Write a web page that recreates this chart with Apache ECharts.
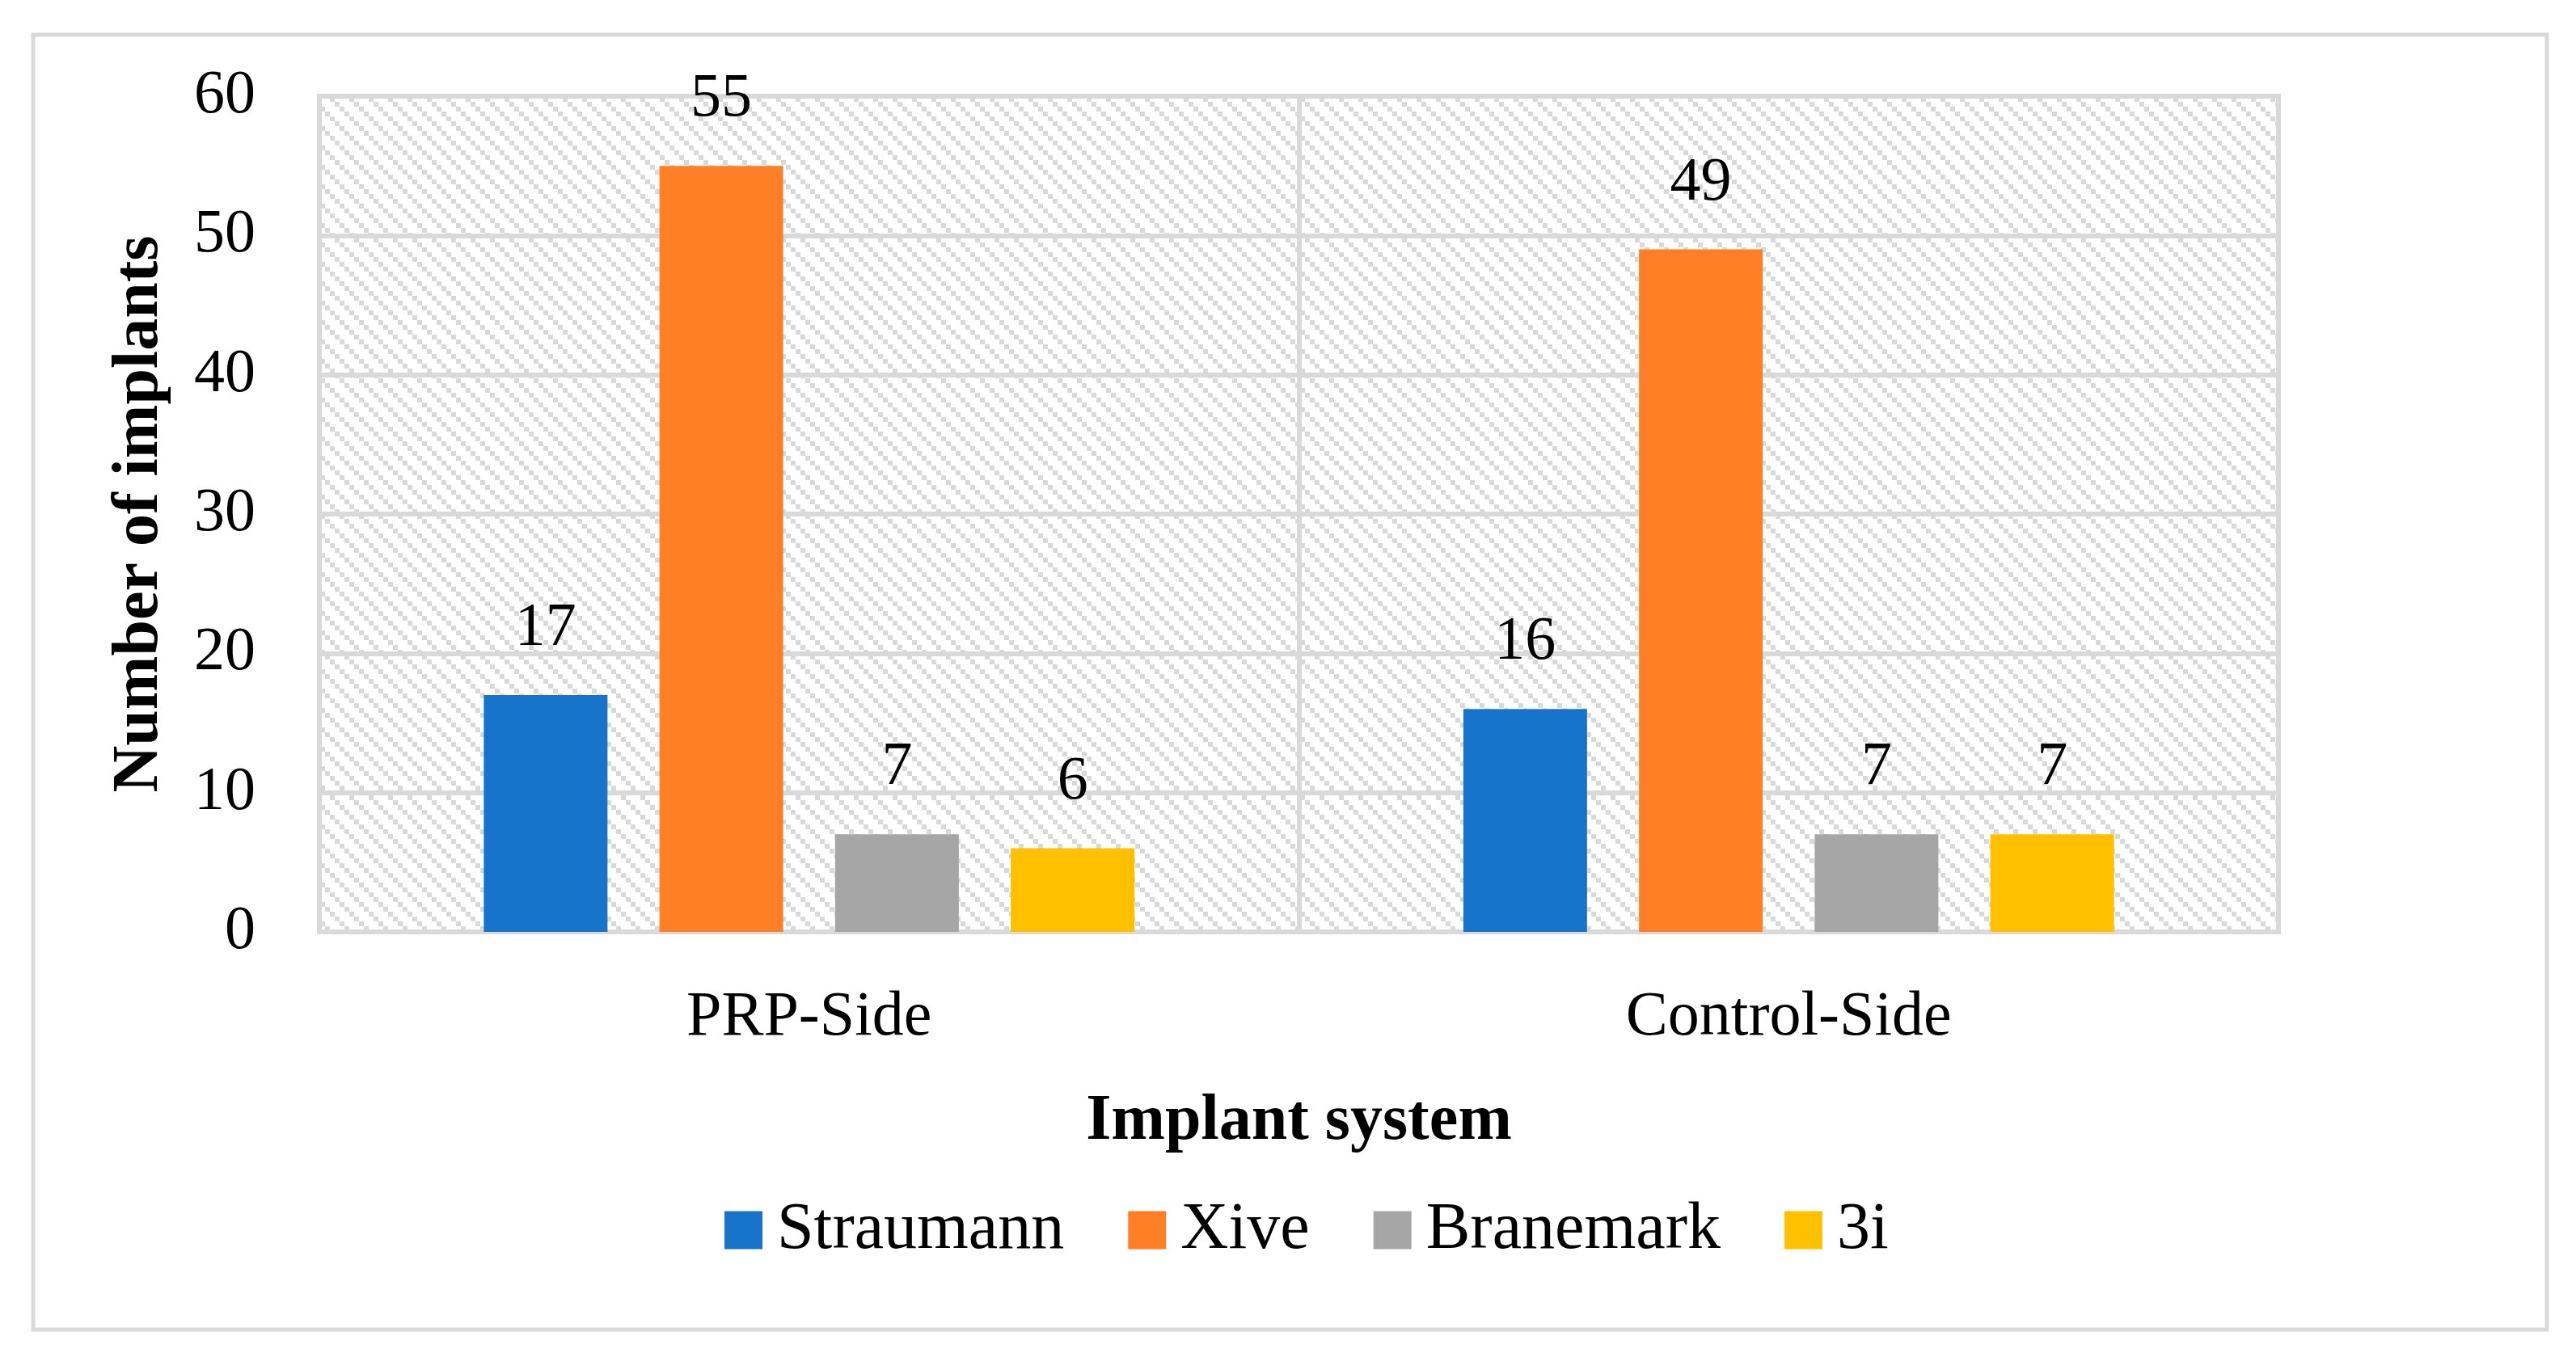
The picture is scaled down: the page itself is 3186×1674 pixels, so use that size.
<!DOCTYPE html>
<html>
<head>
<meta charset="utf-8">
<script src="https://cdn.jsdelivr.net/npm/echarts@6/dist/echarts.min.js"></script>
<style>
html,body{margin:0;padding:0;background:#fff;}
#chart{width:3186px;height:1674px;}
</style>
</head>
<body>
<div id="chart"></div>
<script>
const categories = ['PRP-Side', 'Control-Side'];
const seriesNames = ['Straumann', 'Xive', 'Branemark', '3i'];
const straumann = [17, 16];
const xive = [55, 49];
const branemark = [7, 7];
const threeI = [6, 7];
const seriesValues = [straumann, xive, branemark, threeI];
const seriesColors = ['#1874CB', '#FF7F27', '#A6A6A6', '#FFC000'];
const yMin = 0, yMax = 60, yInterval = 10;

function makePattern() {
  const c = document.createElement('canvas');
  c.width = 24; c.height = 24;
  const ctx = c.getContext('2d');
  ctx.fillStyle = '#ffffff';
  ctx.fillRect(0, 0, 24, 24);
  ctx.fillStyle = '#d9d9d9';
  for (let k = 0; k < 4; k++) ctx.fillRect(k * 6, k * 6, 6, 6);
  return c;
}

const FONT = '"Liberation Serif", "Times New Roman", serif';
const chart = echarts.init(document.getElementById('chart'), null, {renderer: 'canvas'});

const series = seriesNames.map((name, i) => ({
  name: name,
  type: 'bar',
  data: seriesValues[i],
  barWidth: 153,
  barGap: '42%',
  itemStyle: {color: seriesColors[i]},
  label: {
    show: true,
    position: 'top',
    distance: 44,
    color: '#000',
    fontFamily: FONT,
    fontSize: 76
  }
}));

chart.setOption({
  animation: false,
  backgroundColor: '#ffffff',
  graphic: [{
    type: 'rect',
    shape: {x: 41, y: 43, width: 3109, height: 1602},
    style: {fill: 'none', stroke: '#d9d9d9', lineWidth: 5},
    silent: true,
    z: -10
  }],
  grid: {
    left: 395, top: 119, width: 2423, height: 1034,
    show: true,
    backgroundColor: {image: makePattern(), repeat: 'repeat'},
    borderColor: '#d9d9d9',
    borderWidth: 6
  },
  legend: {
    data: seriesNames,
    left: 891,
    top: 1476,
    itemWidth: 47,
    itemHeight: 47,
    itemGap: 79,
    icon: 'rect',
    textStyle: {
      fontFamily: FONT,
      fontSize: 82,
      color: '#000',
      padding: [0, 0, 0, 13]
    }
  },
  xAxis: {
    type: 'category',
    data: categories,
    name: 'Implant system',
    nameLocation: 'middle',
    nameGap: 195,
    nameTextStyle: {fontFamily: FONT, fontSize: 80, fontWeight: 'bold', color: '#000'},
    axisLine: {show: true, lineStyle: {color: '#d9d9d9', width: 6}},
    axisTick: {show: false},
    axisLabel: {fontFamily: FONT, fontSize: 78, color: '#000', margin: 68},
    splitLine: {show: true, lineStyle: {color: '#d9d9d9', width: 6}}
  },
  yAxis: {
    type: 'value',
    min: yMin, max: yMax, interval: yInterval,
    name: 'Number of implants',
    nameLocation: 'middle',
    nameGap: 182,
    nameTextStyle: {fontFamily: FONT, fontSize: 80, fontWeight: 'bold', color: '#000'},
    axisLine: {show: false},
    axisTick: {show: false},
    axisLabel: {fontFamily: FONT, fontSize: 76, color: '#000', margin: 79},
    splitLine: {show: true, lineStyle: {color: '#d9d9d9', width: 6}}
  },
  series: series
});
</script>
</body>
</html>
